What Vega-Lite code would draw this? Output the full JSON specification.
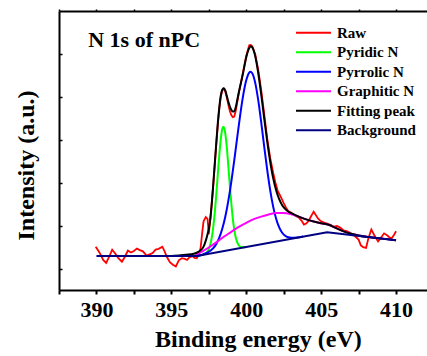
{
  "$schema": "https://vega.github.io/schema/vega-lite/v6.json",
  "width": 368,
  "height": 279,
  "autosize": {"type": "none"},
  "padding": {"left": 59, "top": 11, "right": 0, "bottom": 66},
  "background": "white",
  "config": {"view": {"stroke": null}, "font": "Liberation Serif"},
  "datasets": {
    "raw": [
      {"E":389.95,"I":2.02},{"E":390.2,"I":1.75},{"E":390.45,"I":1.4},{"E":390.65,"I":1.26},{"E":390.85,"I":1.55},{"E":391.05,"I":1.88},{"E":391.25,"I":1.7},{"E":391.45,"I":1.5},{"E":391.7,"I":1.32},{"E":391.9,"I":1.55},{"E":392.1,"I":1.84},{"E":392.3,"I":1.75},{"E":392.5,"I":1.82},{"E":392.7,"I":1.93},{"E":392.9,"I":1.86},{"E":393.1,"I":1.8},{"E":393.35,"I":1.6},{"E":393.55,"I":1.66},{"E":393.75,"I":1.72},{"E":393.95,"I":1.88},{"E":394.15,"I":1.92},{"E":394.4,"I":2.02},{"E":394.55,"I":1.8},{"E":394.7,"I":1.55},{"E":394.9,"I":1.3},{"E":395.1,"I":1.18},{"E":395.3,"I":1.1},{"E":395.5,"I":1.38},{"E":395.7,"I":1.48},{"E":395.9,"I":1.45},{"E":396.05,"I":1.4},{"E":396.2,"I":1.52},{"E":396.4,"I":1.58},{"E":396.55,"I":1.5},{"E":396.7,"I":1.48},{"E":396.85,"I":1.7},{"E":396.95,"I":1.94},{"E":397.05,"I":2.6},{"E":397.15,"I":3.2},{"E":397.3,"I":3.4},{"E":397.42,"I":3.3},{"E":397.5,"I":2.6},{"E":397.6,"I":3.3},{"E":397.7,"I":4.05},{"E":397.8,"I":4.9},{"E":397.9,"I":5.85},{"E":398.0,"I":6.8},{"E":398.1,"I":7.7},{"E":398.2,"I":8.45},{"E":398.3,"I":9.0},{"E":398.4,"I":9.3},{"E":398.5,"I":9.38},{"E":398.6,"I":9.25},{"E":398.7,"I":8.98},{"E":398.8,"I":8.65},{"E":398.9,"I":8.35},{"E":399.0,"I":8.15},{"E":399.1,"I":8.05},{"E":399.2,"I":8.08},{"E":399.3,"I":8.35},{"E":399.4,"I":8.75},{"E":399.5,"I":9.15},{"E":399.6,"I":9.5},{"E":399.7,"I":9.85},{"E":399.8,"I":10.2},{"E":400.0,"I":10.9},{"E":400.2,"I":11.4},{"E":400.3,"I":11.42},{"E":400.4,"I":11.36},{"E":400.6,"I":10.98},{"E":400.8,"I":10.25},{"E":401.0,"I":9.3},{"E":401.2,"I":8.2},{"E":401.4,"I":7.05},{"E":401.6,"I":6.15},{"E":401.8,"I":5.45},{"E":401.95,"I":5.0},{"E":402.1,"I":4.62},{"E":402.3,"I":4.35},{"E":402.5,"I":4.05},{"E":402.65,"I":3.85},{"E":402.8,"I":3.68},{"E":402.95,"I":3.62},{"E":403.1,"I":3.55},{"E":403.3,"I":3.45},{"E":403.5,"I":3.38},{"E":403.7,"I":3.22},{"E":403.85,"I":3.05},{"E":404.0,"I":3.1},{"E":404.15,"I":3.2},{"E":404.3,"I":3.4},{"E":404.5,"I":3.65},{"E":404.65,"I":3.48},{"E":404.8,"I":3.32},{"E":405.0,"I":3.2},{"E":405.2,"I":3.14},{"E":405.45,"I":3.08},{"E":405.65,"I":3.02},{"E":405.85,"I":2.95},{"E":406.05,"I":2.98},{"E":406.25,"I":2.92},{"E":406.5,"I":2.78},{"E":406.7,"I":2.74},{"E":406.9,"I":2.68},{"E":407.1,"I":2.58},{"E":407.3,"I":2.48},{"E":407.5,"I":2.35},{"E":407.65,"I":2.08},{"E":407.8,"I":2.0},{"E":408.0,"I":1.96},{"E":408.15,"I":2.4},{"E":408.35,"I":2.82},{"E":408.55,"I":2.55},{"E":408.8,"I":2.26},{"E":409.0,"I":2.45},{"E":409.2,"I":2.64},{"E":409.4,"I":2.55},{"E":409.55,"I":2.46},{"E":409.7,"I":2.41},{"E":409.85,"I":2.55},{"E":410.0,"I":2.74}
    ],
    "comp": [
      {"s":"Pyridic N","E":396.7,"I":1.58},{"s":"Pyridic N","E":397.0,"I":1.625},{"s":"Pyridic N","E":397.2,"I":1.666},{"s":"Pyridic N","E":397.4,"I":1.779},{"s":"Pyridic N","E":397.5,"I":1.905},{"s":"Pyridic N","E":397.6,"I":2.117},{"s":"Pyridic N","E":397.7,"I":2.453},{"s":"Pyridic N","E":397.8,"I":2.946},{"s":"Pyridic N","E":397.9,"I":3.616},{"s":"Pyridic N","E":398.0,"I":4.445},{"s":"Pyridic N","E":398.1,"I":5.37},{"s":"Pyridic N","E":398.2,"I":6.277},{"s":"Pyridic N","E":398.3,"I":7.032},{"s":"Pyridic N","E":398.4,"I":7.5},{"s":"Pyridic N","E":398.47,"I":7.606},{"s":"Pyridic N","E":398.55,"I":7.488},{"s":"Pyridic N","E":398.6,"I":7.293},{"s":"Pyridic N","E":398.7,"I":6.664},{"s":"Pyridic N","E":398.8,"I":5.826},{"s":"Pyridic N","E":398.9,"I":4.919},{"s":"Pyridic N","E":399.0,"I":4.066},{"s":"Pyridic N","E":399.1,"I":3.353},{"s":"Pyridic N","E":399.2,"I":2.815},{"s":"Pyridic N","E":399.3,"I":2.446},{"s":"Pyridic N","E":399.4,"I":2.215},{"s":"Pyridic N","E":399.5,"I":2.084},{"s":"Pyridic N","E":399.6,"I":2.02},{"s":"Pyridic N","E":399.8,"I":1.989},{"s":"Pyridic N","E":400.0,"I":2.001},
      {"s":"Pyrrolic N","E":396.7,"I":1.58},{"s":"Pyrrolic N","E":397.0,"I":1.634},{"s":"Pyrrolic N","E":397.4,"I":1.736},{"s":"Pyrrolic N","E":397.8,"I":1.952},{"s":"Pyrrolic N","E":398.0,"I":2.148},{"s":"Pyrrolic N","E":398.2,"I":2.438},{"s":"Pyrrolic N","E":398.4,"I":2.851},{"s":"Pyrrolic N","E":398.6,"I":3.412},{"s":"Pyrrolic N","E":398.8,"I":4.14},{"s":"Pyrrolic N","E":399.0,"I":5.027},{"s":"Pyrrolic N","E":399.2,"I":6.043},{"s":"Pyrrolic N","E":399.4,"I":7.121},{"s":"Pyrrolic N","E":399.6,"I":8.173},{"s":"Pyrrolic N","E":399.8,"I":9.092},{"s":"Pyrrolic N","E":400.0,"I":9.771},{"s":"Pyrrolic N","E":400.1,"I":9.994},{"s":"Pyrrolic N","E":400.2,"I":10.127},{"s":"Pyrrolic N","E":400.28,"I":10.167},{"s":"Pyrrolic N","E":400.4,"I":10.101},{"s":"Pyrrolic N","E":400.6,"I":9.652},{"s":"Pyrrolic N","E":400.8,"I":8.845},{"s":"Pyrrolic N","E":401.0,"I":7.808},{"s":"Pyrrolic N","E":401.2,"I":6.68},{"s":"Pyrrolic N","E":401.4,"I":5.593},{"s":"Pyrrolic N","E":401.6,"I":4.64},{"s":"Pyrrolic N","E":401.8,"I":3.874},{"s":"Pyrrolic N","E":402.0,"I":3.306},{"s":"Pyrrolic N","E":402.2,"I":2.916},{"s":"Pyrrolic N","E":402.4,"I":2.669},{"s":"Pyrrolic N","E":402.6,"I":2.529},{"s":"Pyrrolic N","E":402.8,"I":2.458},{"s":"Pyrrolic N","E":403.0,"I":2.433},{"s":"Pyrrolic N","E":403.4,"I":2.445},{"s":"Pyrrolic N","E":403.8,"I":2.49},
      {"s":"Graphitic N","E":396.6,"I":1.6},{"s":"Graphitic N","E":397.0,"I":1.77},{"s":"Graphitic N","E":397.5,"I":1.98},{"s":"Graphitic N","E":398.0,"I":2.22},{"s":"Graphitic N","E":398.5,"I":2.48},{"s":"Graphitic N","E":399.0,"I":2.71},{"s":"Graphitic N","E":399.5,"I":2.94},{"s":"Graphitic N","E":400.0,"I":3.13},{"s":"Graphitic N","E":400.5,"I":3.3},{"s":"Graphitic N","E":401.0,"I":3.42},{"s":"Graphitic N","E":401.5,"I":3.52},{"s":"Graphitic N","E":402.0,"I":3.59},{"s":"Graphitic N","E":402.5,"I":3.59},{"s":"Graphitic N","E":403.0,"I":3.53},{"s":"Graphitic N","E":403.5,"I":3.42},{"s":"Graphitic N","E":404.0,"I":3.29},{"s":"Graphitic N","E":404.5,"I":3.19},{"s":"Graphitic N","E":405.0,"I":3.11},{"s":"Graphitic N","E":405.5,"I":3.04},{"s":"Graphitic N","E":406.0,"I":2.88},{"s":"Graphitic N","E":406.5,"I":2.73},{"s":"Graphitic N","E":407.0,"I":2.62},{"s":"Graphitic N","E":407.5,"I":2.54},{"s":"Graphitic N","E":408.0,"I":2.48},{"s":"Graphitic N","E":409.0,"I":2.4},{"s":"Graphitic N","E":410.0,"I":2.32},
      {"s":"Fitting peak","E":394.0,"I":1.58},{"s":"Fitting peak","E":395.0,"I":1.59},{"s":"Fitting peak","E":395.5,"I":1.61},{"s":"Fitting peak","E":396.0,"I":1.64},{"s":"Fitting peak","E":396.5,"I":1.69},{"s":"Fitting peak","E":396.8,"I":1.78},{"s":"Fitting peak","E":397.0,"I":1.88},{"s":"Fitting peak","E":397.15,"I":2.02},{"s":"Fitting peak","E":397.3,"I":2.3},{"s":"Fitting peak","E":397.4,"I":2.55},{"s":"Fitting peak","E":397.5,"I":2.85},{"s":"Fitting peak","E":397.6,"I":3.3},{"s":"Fitting peak","E":397.7,"I":4.05},{"s":"Fitting peak","E":397.8,"I":4.95},{"s":"Fitting peak","E":397.9,"I":5.9},{"s":"Fitting peak","E":398.0,"I":6.85},{"s":"Fitting peak","E":398.1,"I":7.75},{"s":"Fitting peak","E":398.2,"I":8.5},{"s":"Fitting peak","E":398.3,"I":9.05},{"s":"Fitting peak","E":398.4,"I":9.33},{"s":"Fitting peak","E":398.5,"I":9.4},{"s":"Fitting peak","E":398.6,"I":9.3},{"s":"Fitting peak","E":398.7,"I":9.05},{"s":"Fitting peak","E":398.8,"I":8.78},{"s":"Fitting peak","E":398.9,"I":8.56},{"s":"Fitting peak","E":399.0,"I":8.4},{"s":"Fitting peak","E":399.1,"I":8.32},{"s":"Fitting peak","E":399.2,"I":8.33},{"s":"Fitting peak","E":399.3,"I":8.52},{"s":"Fitting peak","E":399.4,"I":8.85},{"s":"Fitting peak","E":399.5,"I":9.2},{"s":"Fitting peak","E":399.6,"I":9.52},{"s":"Fitting peak","E":399.7,"I":9.82},{"s":"Fitting peak","E":399.8,"I":10.15},{"s":"Fitting peak","E":400.0,"I":10.85},{"s":"Fitting peak","E":400.2,"I":11.27},{"s":"Fitting peak","E":400.3,"I":11.36},{"s":"Fitting peak","E":400.4,"I":11.31},{"s":"Fitting peak","E":400.6,"I":10.89},{"s":"Fitting peak","E":400.8,"I":10.11},{"s":"Fitting peak","E":401.0,"I":9.1},{"s":"Fitting peak","E":401.2,"I":7.99},{"s":"Fitting peak","E":401.4,"I":6.91},{"s":"Fitting peak","E":401.6,"I":5.97},{"s":"Fitting peak","E":401.8,"I":5.2},{"s":"Fitting peak","E":402.0,"I":4.64},{"s":"Fitting peak","E":402.2,"I":4.23},{"s":"Fitting peak","E":402.4,"I":3.95},{"s":"Fitting peak","E":402.6,"I":3.78},{"s":"Fitting peak","E":402.8,"I":3.66},{"s":"Fitting peak","E":403.0,"I":3.58},{"s":"Fitting peak","E":403.5,"I":3.42},{"s":"Fitting peak","E":404.0,"I":3.29},{"s":"Fitting peak","E":404.5,"I":3.19},{"s":"Fitting peak","E":405.0,"I":3.11},{"s":"Fitting peak","E":405.5,"I":3.04},{"s":"Fitting peak","E":406.0,"I":2.88},{"s":"Fitting peak","E":406.5,"I":2.73},{"s":"Fitting peak","E":407.0,"I":2.62},{"s":"Fitting peak","E":407.5,"I":2.54},{"s":"Fitting peak","E":408.0,"I":2.48},{"s":"Fitting peak","E":409.0,"I":2.4},{"s":"Fitting peak","E":410.0,"I":2.32}
    ],
    "bg": [
      {"E":390.0,"I":1.58},{"E":396.7,"I":1.58},{"E":405.4,"I":2.69},{"E":410.0,"I":2.32}
    ],
    "note": [
      {"label": "N 1s of nPC"}
    ]
  },
  "layer": [
    {
      "data": {"name": "raw"},
      "transform": [{"calculate": "'Raw'", "as": "s"}],
      "mark": {"type": "line", "strokeWidth": 1.8, "interpolate": "linear"},
      "encoding": {
        "x": {"field": "E", "type": "quantitative", "scale": {"domain": [387.5, 412.0667], "nice": false, "zero": false},
          "axis": {"orient": "bottom", "values": [387.5, 390, 392.5, 395, 397.5, 400, 402.5, 405, 407.5, 410], "labelExpr": "datum.value % 5 == 0 ? datum.label : ''", "grid": false, "domainColor": "black", "domainWidth": 2, "tickColor": "black", "tickWidth": 2, "tickSize": 4, "labelFont": "Liberation Serif", "labelFontSize": 22, "labelFontWeight": "bold", "labelColor": "black", "labelBaseline": "alphabetic", "labelPadding": 22.7, "labelFlush": false, "labelOverlap": false,
            "title": "Binding energy (eV)", "titleFont": "Liberation Serif", "titleFontSize": 24, "titleFontWeight": "bold", "titleColor": "black", "titleX": 198.9, "titleY": 56.7, "titleBaseline": "alphabetic", "titleAlign": "center", "titleAngle": 0}},
        "y": {"field": "I", "type": "quantitative", "scale": {"domain": [0, 13], "nice": false, "zero": false},
          "axis": {"orient": "left", "values": [1,2,3,4,5,6,7,8,9,10,11,12], "labels": false, "grid": false, "domainColor": "black", "domainWidth": 2, "tickColor": "black", "tickWidth": 1.5, "tickSize": -3,
            "title": "Intensity (a.u.)", "titleFont": "Liberation Serif", "titleFontSize": 24, "titleFontWeight": "bold", "titleColor": "black", "titleX": -26, "titleY": 154, "titleAngle": 270, "titleBaseline": "alphabetic", "titleAlign": "center"}},
        "color": {"field": "s", "type": "nominal",
          "scale": {"domain": ["Raw", "Pyridic N", "Pyrrolic N", "Graphitic N", "Fitting peak", "Background"], "range": ["#ff0000", "#00ff00", "#0000ff", "#ff00ff", "#000000", "#000080"]},
          "legend": {"orient": "none", "legendX": 247, "legendY": 14.3, "title": null, "padding": 0, "labelFont": "Liberation Serif", "labelFontSize": 15, "labelFontWeight": "bold", "labelColor": "black", "symbolType": "M-3,0H3", "symbolSize": 136, "symbolStrokeWidth": 2, "rowPadding": 3.5, "labelOffset": 16}}
      }
    },
    {
      "data": {"name": "comp"},
      "mark": {"type": "line", "strokeWidth": 2, "interpolate": "monotone"},
      "encoding": {
        "x": {"field": "E", "type": "quantitative", "scale": {"domain": [387.5, 412.0667], "nice": false, "zero": false},
          "axis": {"orient": "top", "values": [387.5, 390, 392.5, 395, 397.5, 400, 402.5, 405, 407.5, 410], "labels": false, "grid": false, "domainColor": "black", "domainWidth": 2, "tickColor": "black", "tickWidth": 1.5, "tickSize": 2, "title": null}},
        "y": {"field": "I", "type": "quantitative"},
        "color": {"field": "s", "type": "nominal"}
      }
    },
    {
      "data": {"name": "bg"},
      "transform": [{"calculate": "'Background'", "as": "s"}],
      "mark": {"type": "line", "strokeWidth": 2, "interpolate": "linear"},
      "encoding": {
        "x": {"field": "E", "type": "quantitative", "axis": null},
        "y": {"field": "I", "type": "quantitative"},
        "color": {"field": "s", "type": "nominal"}
      }
    },
    {
      "data": {"name": "note"},
      "mark": {"type": "text", "align": "left", "baseline": "alphabetic", "font": "Liberation Serif", "fontSize": 22, "fontWeight": "bold", "fill": "#000000"},
      "encoding": {
        "x": {"datum": 389.45, "axis": null},
        "y": {"datum": 11.34},
        "text": {"field": "label", "type": "nominal"}
      }
    }
  ],
  "resolve": {"axis": {"x": "independent"}}
}
